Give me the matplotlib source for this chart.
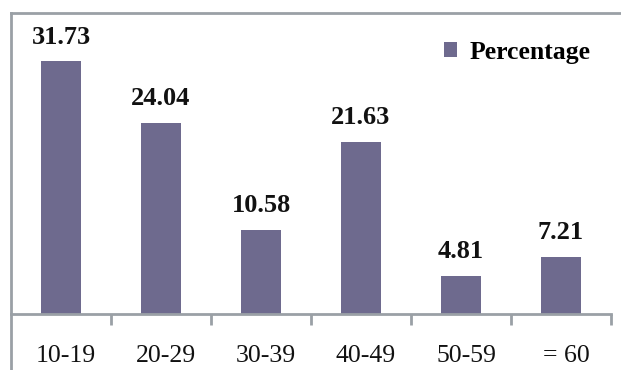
import matplotlib.pyplot as plt
import matplotlib.transforms as mtransforms
import numpy as np
from matplotlib.lines import Line2D

# data
groups = ["10-19", "20-29", "30-39", "40-49", "50-59", "= 60"]
percentage = [31.73, 24.04, 10.58, 21.63, 4.81, 7.21]

plt.rcParams['font.family'] = ['Liberation Serif', 'DejaVu Serif']

bar_color = "#6E6A8E"
grey = "#9AA0A6"

fig = plt.figure(figsize=(6.21, 3.70), dpi=100)
ax = fig.add_axes([11 / 621, 56 / 370, 600 / 621, 301 / 370])

x = np.arange(len(groups))
bars = ax.bar(x, percentage, width=0.4, color=bar_color, label="Percentage", zorder=2)

for xi, v in zip(x, percentage):
    ax.annotate(f"{v:.2f}", (xi, v), xytext=(0, 9), textcoords="offset points",
                ha="center", va="bottom", fontsize=19, fontweight="bold", color="#111111")

ax.set_xlim(-0.5, len(groups) - 0.5)
ax.set_ylim(0, 37.8)

# ticks at category boundaries, labels at centres
ax.set_xticks(np.arange(len(groups)) + 0.5)
ax.set_xticklabels([])
ax.tick_params(axis="x", which="major", direction="out", length=8, width=2, color=grey)
ax.set_xticks(x, minor=True)
ax.set_xticklabels(groups, minor=True, fontsize=18.5, color="#111111")
ax.tick_params(axis="x", which="minor", length=0, pad=22)
# labels sit a little right of the bars in the original
shift = mtransforms.ScaledTranslation(5 / 100, 0, fig.dpi_scale_trans)
for lbl in ax.get_xticklabels(minor=True):
    lbl.set_transform(lbl.get_transform() + shift)
ax.set_yticks([])

for side in ["right", "top"]:
    ax.spines[side].set_visible(False)
ax.spines["left"].set_visible(False)
ax.spines["bottom"].set_color(grey)
ax.spines["bottom"].set_linewidth(2)

# outer frame lines (left edge runs to bottom, top runs to right edge)
fig.add_artist(Line2D([11 / 621, 11 / 621], [0, 1 - 13 / 370], transform=fig.transFigure,
                      color=grey, lw=2))
fig.add_artist(Line2D([11 / 621, 1], [1 - 13 / 370, 1 - 13 / 370], transform=fig.transFigure,
                      color=grey, lw=2))

leg = ax.legend(loc="upper right", frameon=False, fontsize=18.5, handlelength=0.5,
                handleheight=0.5, handletextpad=0.5, bbox_to_anchor=(1.005, 0.985))
for t in leg.get_texts():
    t.set_fontweight("bold")

fig.savefig("out.png", dpi=100)
